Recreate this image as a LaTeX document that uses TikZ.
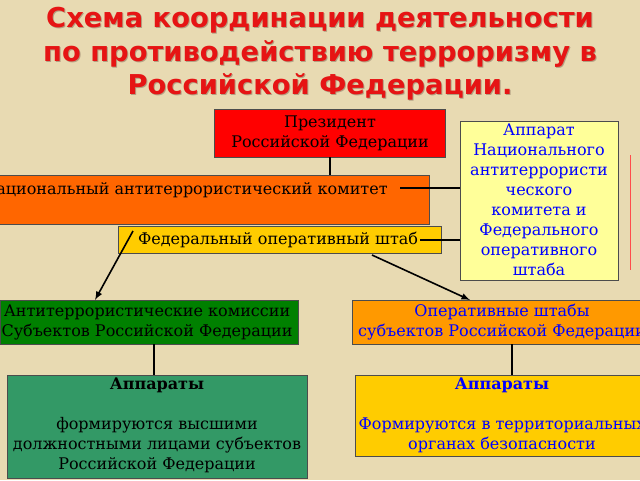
\documentclass[tikz,border=0pt]{standalone}
\usepackage{fontspec}
\setmainfont{DejaVu Serif}
\newfontfamily\titlefont{DejaVu Sans}
\begin{document}
\begin{tikzpicture}[x=0.75pt,y=-0.75pt,
  bx/.style={draw=black!70,line width=0.6pt,inner sep=0pt},
  txt/.style={font=\fontsize{12}{15}\selectfont,align=center,inner sep=0pt},
  ln/.style={line width=1.2pt,black},
  ar/.style={ln,-latex}]
\useasboundingbox (0,0) rectangle (640,480);
\fill[fill={rgb,255:red,232;green,218;blue,178}] (0,0) rectangle (640,480);
\clip (0,0) rectangle (640,480);
\node[text={rgb,255:red,180;green,160;blue,130},font=\titlefont\bfseries\fontsize{20.5}{25}\selectfont,align=center] at (321,55) {Схема координации деятельности\\по противодействию терроризму в\\Российской Федерации.};
\node[text={rgb,255:red,230;green,20;blue,20},font=\titlefont\bfseries\fontsize{20.5}{25}\selectfont,align=center] (title) at (320,54) {Схема координации деятельности\\по противодействию терроризму в\\Российской Федерации.};
\draw[bx,fill=red] (214,109) rectangle (445,157);
\node[txt] (pres) at (330,133) {Президент\\Российской Федерации};
\draw[bx,fill={rgb,255:red,255;green,102;blue,0}] (-40,175) rectangle (429,224);
\node[txt] (nak) at (185,190) {Национальный антитеррористический комитет};
\draw[bx,fill={rgb,255:red,255;green,204;blue,0}] (118,226) rectangle (441,253);
\node[txt] (fos) at (278,240) {Федеральный оперативный штаб};
\draw[bx,fill={rgb,255:red,255;green,255;blue,153}] (460,121) rectangle (618,280);
\node[txt,text=blue] (app) at (539,200) {Аппарат\\Национального\\антитеррористи\\ческого\\комитета и\\Федерального\\оперативного\\штаба};
\draw[bx,fill={rgb,255:red,0;green,128;blue,0}] (0,300) rectangle (298,344);
\node[txt] (atk) at (147,322) {Антитеррористические комиссии\\Субъектов Российской Федерации};
\draw[bx,fill={rgb,255:red,255;green,153;blue,0}] (352,300) rectangle (645,344);
\node[txt,text=blue] (osh) at (502,322) {Оперативные штабы\\субъектов Российской Федерации};
\draw[bx,fill={rgb,255:red,51;green,153;blue,102}] (7,375) rectangle (307,478);
\node[txt] (ap1) at (157,425) {\textbf{Аппараты}\\[15pt]формируются высшими\\должностными лицами субъектов\\Российской Федерации};
\draw[bx,fill={rgb,255:red,255;green,204;blue,0}] (355,375) rectangle (645,456);
\node[txt,text=blue] (ap2) at (502,415) {\textbf{Аппараты}\\[15pt]Формируются в территориальных\\органах безопасности};
\coordinate (p1) at (330,157); \coordinate (p2) at (330,175);
\draw[ln] (p1) -- (p2);
\coordinate (n1) at (400,188); \coordinate (n2) at (460,188);
\draw[ln] (n1) -- (n2);
\coordinate (f1) at (420,240); \coordinate (f2) at (460,240);
\draw[ln] (f1) -- (f2);
\coordinate (a1) at (133,231); \coordinate (a2) at (95,300);
\draw[ar] (a1) -- (a2);
\coordinate (b1) at (372,255); \coordinate (b2) at (470,300);
\draw[ar] (b1) -- (b2);
\coordinate (c1) at (154,344); \coordinate (c2) at (154,375);
\draw[ln] (c1) -- (c2);
\coordinate (d1) at (512,344); \coordinate (d2) at (512,375);
\draw[ln] (d1) -- (d2);
\coordinate (r1) at (630,155); \coordinate (r2) at (630,270);
\draw[red!70,line width=0.5pt] (r1) -- (r2);
\end{tikzpicture}
\end{document}
